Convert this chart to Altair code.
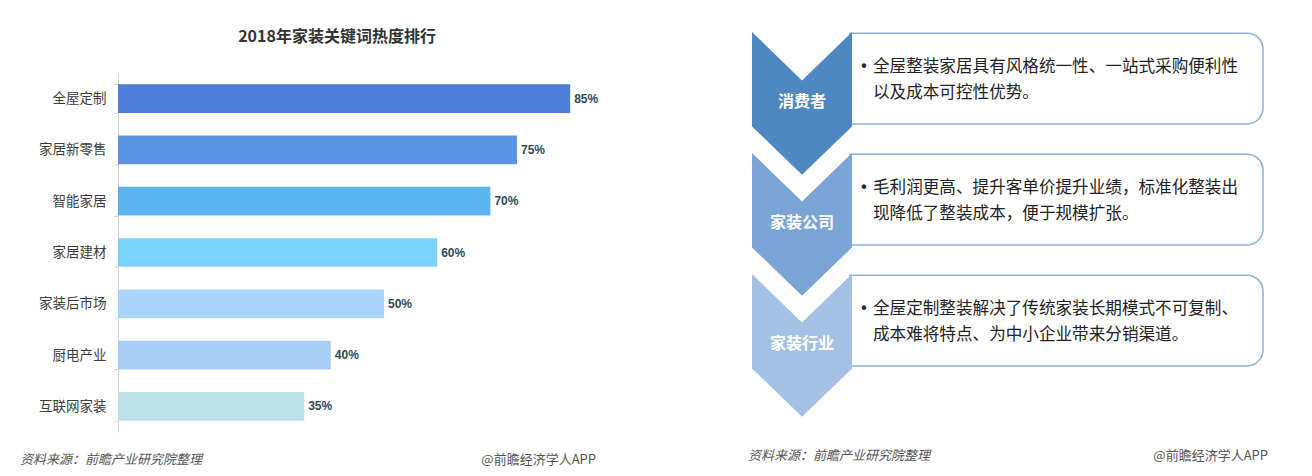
import altair as alt
import pandas as pd

# ---------------- data ----------------
categories = ["全屋定制", "家居新零售", "智能家居", "家居建材", "家装后市场", "厨电产业", "互联网家装"]
values = [85, 75, 70, 60, 50, 40, 35]
value_labels = ["85%", "75%", "70%", "60%", "50%", "40%", "35%"]
bar_colors = ["#4F7ED6", "#5B94E3", "#5DB3F0", "#7DD2FD", "#A9D4FC", "#A7CFF8", "#BFE1E8"]

stages = ["消费者", "家装公司", "家装行业"]
stage_colors = ["#4F88C0", "#7AA4D5", "#A4C1E5"]
stage_index = [0, 1, 2]
line1 = ["全屋整装家居具有风格统一性、一站式采购便利性",
         "毛利润更高、提升客单价提升业绩，标准化整装出",
         "全屋定制整装解决了传统家装长期模式不可复制、"]
line2 = ["以及成本可控性优势。",
         "现降低了整装成本，便于规模扩张。",
         "成本难将特点、为中小企业带来分销渠道。"]

# chevron outline (in stage units): x across, top edge and bottom edge offsets
chev_x = [0.0, 0.5, 1.0]
chev_top = [0.0, 0.40, 0.0]
chev_bottom = [0.78, 1.18, 0.78]

title_text = "2018年家装关键词热度排行"
source_text = "资料来源：前瞻产业研究院整理"
brand_text = "@前瞻经济学人APP"

FONT = "Noto Sans CJK SC"

# ---------------- tables ----------------
bars_df = pd.DataFrame({"cat": categories, "val": values, "lab": value_labels, "col": bar_colors})

chev_rows = []
for i, c in zip(stage_index, stage_colors):
    for x, t, b in zip(chev_x, chev_top, chev_bottom):
        chev_rows.append({"stage": i, "col": c, "x": x, "top": i + t, "bot": i + b})
chev_df = pd.DataFrame(chev_rows)

box_df = pd.DataFrame({"stage": stage_index, "name": stages, "l1": line1, "l2": line2})
box_df["y0"] = box_df["stage"] + 0.01
box_df["y1"] = box_df["stage"] + 0.76
box_df["ylab"] = box_df["stage"] + 0.58
box_df["yl1"] = box_df["stage"] + 0.29
box_df["yl2"] = box_df["stage"] + 0.505
box_df["xc"] = 0.5
box_df["xb0"] = 0.98
box_df["xb1"] = 5.11
box_df["xbul"] = 1.12
box_df["xt"] = 1.21

# ---------------- scales ----------------
X_BAR = alt.Scale(domain=[0, 100], range=[118, 650], nice=False, zero=True)
Y_BAR = alt.Scale(domain=categories, range=[73, 432], paddingInner=0.44, paddingOuter=0.22)
X_D = alt.Scale(domain=[0, 5.11], range=[752, 1263], nice=False, zero=False)
Y_D = alt.Scale(domain=[0, 3], range=[32, 395], nice=False, zero=False)

# ---------------- left: bar chart ----------------
bars = alt.Chart(bars_df).mark_bar().encode(
    x=alt.X("val:Q", scale=X_BAR, axis=None),
    y=alt.Y("cat:N", scale=Y_BAR, sort=categories,
            axis=alt.Axis(title=None, offset=-118, domainColor="#d6d6d6", tickColor="#d6d6d6",
                          tickSize=4, tickBand="extent", labelPadding=8, labelFontSize=13.5,
                          labelColor="#3c3c3c", labelFont=FONT, grid=False, domainWidth=1)),
    color=alt.Color("col:N", scale=None),
)

bar_labels = alt.Chart(bars_df).mark_text(
    align="left", baseline="middle", dx=4, fontSize=12, fontWeight="bold",
    font="Liberation Sans", color="#2C4A5C"
).encode(
    x=alt.X("val:Q", scale=X_BAR, axis=None),
    y=alt.Y("cat:N", scale=Y_BAR, sort=categories, axis=None),
    text="lab:N",
)


def note(txt, x, y, size=13, weight="normal", style="normal", color="#555555", align="left"):
    return alt.Chart(pd.DataFrame({"t": [txt]})).mark_text(
        align=align, baseline="middle", fontSize=size, fontWeight=weight, fontStyle=style,
        font=FONT, color=color
    ).encode(x=alt.value(x), y=alt.value(y), text="t:N")


title = note(title_text, 337, 37, size=16, weight="bold", color="#333333", align="center")
src_l = note(source_text, 20, 460, style="italic", color="#555555")
brand_l = note(brand_text, 596, 460, color="#555555", align="right")
src_r = note(source_text, 748, 456, style="italic", color="#555555")
brand_r = note(brand_text, 1268, 456, color="#555555", align="right")

# ---------------- right: chevron diagram ----------------
boxes = alt.Chart(box_df).mark_rect(
    fill="white", stroke="#8DB0DB", strokeWidth=1.5,
    cornerRadiusTopRight=16, cornerRadiusBottomRight=16
).encode(
    x=alt.X("xb0:Q", scale=X_D, axis=None), x2="xb1:Q",
    y=alt.Y("y0:Q", scale=Y_D, axis=None), y2="y1:Q",
)

chevrons = alt.Chart(chev_df).mark_area(orient="vertical", interpolate="linear").encode(
    x=alt.X("x:Q", scale=X_D, axis=None),
    y=alt.Y("top:Q", scale=Y_D, axis=None, stack=None),
    y2="bot:Q",
    fill=alt.Fill("col:N", scale=None),
    detail="stage:N",
)

stage_names = alt.Chart(box_df).mark_text(
    align="center", baseline="middle", fontSize=16, fontWeight="bold", font=FONT, color="white"
).encode(
    x=alt.X("xc:Q", scale=X_D, axis=None),
    y=alt.Y("ylab:Q", scale=Y_D, axis=None),
    text="name:N",
)

bullets = alt.Chart(box_df).mark_text(
    align="center", baseline="middle", fontSize=15, font="DejaVu Sans", color="#222222"
).encode(
    x=alt.X("xbul:Q", scale=X_D, axis=None),
    y=alt.Y("yl1:Q", scale=Y_D, axis=None),
    text=alt.value("•"),
)

text1 = alt.Chart(box_df).mark_text(
    align="left", baseline="middle", fontSize=16.6, font=FONT, color="#222222"
).encode(
    x=alt.X("xt:Q", scale=X_D, axis=None),
    y=alt.Y("yl1:Q", scale=Y_D, axis=None),
    text="l1:N",
)

text2 = alt.Chart(box_df).mark_text(
    align="left", baseline="middle", fontSize=16.6, font=FONT, color="#222222"
).encode(
    x=alt.X("xt:Q", scale=X_D, axis=None),
    y=alt.Y("yl2:Q", scale=Y_D, axis=None),
    text="l2:N",
)

chart = alt.layer(
    bars, bar_labels, title, src_l, brand_l,
    boxes, chevrons, stage_names, bullets, text1, text2, src_r, brand_r
).resolve_scale(
    x="independent", y="independent", color="independent", fill="independent"
).properties(
    width=1312, height=476, padding=0,
    autosize=alt.AutoSizeParams(type="none"),
    background="white",
).configure_view(stroke=None)

chart.save("out.html", embed_options={"renderer": "svg", "actions": False})
